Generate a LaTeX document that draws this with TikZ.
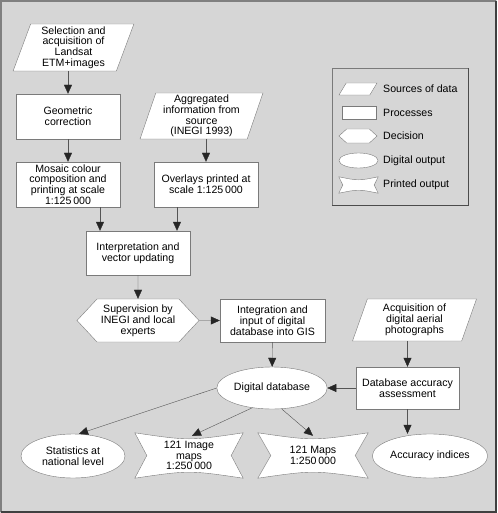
\documentclass[tikz,border=0pt]{standalone}
\usepackage{fontspec}
\setmainfont{Liberation Sans}
\usetikzlibrary{shapes.geometric,shapes.symbols,arrows.meta,backgrounds}
\definecolor{bggray}{HTML}{D6D6D6}
\definecolor{edgegray}{HTML}{7A7A7A}
\definecolor{linegray}{HTML}{555555}
\definecolor{tipgray}{HTML}{262626}
% outline of a printed output: node, side notch, top/bottom dip
\newcommand{\printedoutline}[3]{%
  \draw[edgegray, fill=white] (#1.north west) .. controls ([yshift=-2*#3]#1.north) .. (#1.north east)
    -- ([xshift=-#2]#1.east) -- (#1.south east) .. controls ([yshift=2*#3]#1.south) .. (#1.south west)
    -- ([xshift=#2]#1.west) -- cycle;}

\begin{document}
\begin{tikzpicture}[x=1pt, y=-1pt,
  every node/.style={font=\fontsize{10.6}{10.8}\selectfont, align=center, inner sep=1pt},
  process/.style={rectangle, draw=edgegray, fill=white},
  source/.style={trapezium, trapezium left angle=73, trapezium right angle=107, trapezium stretches=true, draw=edgegray, fill=white},
  decision/.style={signal, signal to=west and east, signal pointer angle=94, draw=edgegray, fill=white},
  digital/.style={ellipse, draw=edgegray, fill=white},
  printed/.style={rectangle},
  flow/.style={draw=linegray, -{Triangle[width=8pt, length=9pt, color=tipgray]}}]
  \useasboundingbox (0,0) rectangle (497,513);

  % Fonti e processi
  \node[source, minimum width=121, minimum height=47] (select) at (73.5,47.5) {Selection and\\acquisition of\\Landsat\\ETM+images};
  \node[process, minimum width=104, minimum height=45] (geo) at (68,116.5) {Geometric\\correction};
  \node[process, minimum width=104, minimum height=45] (mosaic) at (68,184.5) {Mosaic colour\\composition and\\printing at scale\\1:125\,000};
  \node[source, minimum width=123, minimum height=46] (aggreg) at (201.5,116) {Aggregated\\information from\\source\\(INEGI 1993)};
  \node[process, minimum width=104, minimum height=45] (overlay) at (206,184.5) {Overlays printed at\\scale 1:125\,000};
  \node[process, minimum width=104, minimum height=44] (interp) at (138,253) {Interpretation and\\vector updating};
  \node[decision, minimum width=122, minimum height=43] (superv) at (138,320.5) {Supervision by\\INEGI and local\\experts};
  \node[process, minimum width=105, minimum height=43] (integr) at (272.5,320.5) {Integration and\\input of digital\\database into GIS};
  \node[digital, minimum width=104, minimum height=42] (digdb) at (272,388) {Digital database};
  \node[source, minimum width=125, minimum height=42] (aerial) at (414.5,320) {Acquisition of\\digital aerial\\photographs};
  \node[process, minimum width=103, minimum height=42] (assess) at (407.5,388) {Database accuracy\\assessment};

  % Uscite
  \node[digital, minimum width=104, minimum height=44] (stats) at (73,456) {Statistics at\\national level};
  \node[printed, minimum width=108, minimum height=45] (imgmaps) at (189,455.5) {121 Image\\maps\\1:250\,000};
  \node[printed, minimum width=110, minimum height=45] (maps) at (313,455.5) {121 Maps\\1:250\,000};
  \node[digital, minimum width=104, minimum height=44] (indices) at (430,456) {Accuracy indices};

  % Legenda
  \draw[edgegray] (332,205) -- (332,68) -- (468,68);
  \draw[black!70] (332,205) -- (468,205) -- (468,68);
  \node[source, minimum width=38, minimum height=12] (lsource) at (358,89) {};
  \node[process, minimum width=34, minimum height=13] (lprocess) at (359,112.5) {};
  \node[decision, signal pointer angle=85, minimum width=38, minimum height=14] (ldecision) at (358,136) {};
  \node[digital, minimum width=39, minimum height=15] (ldigital) at (358.5,160.5) {};
  \node[printed, minimum width=39, minimum height=16] (lprinted) at (358.5,185) {};
  \node[anchor=west] (tsource) at (382,89) {Sources of data};
  \node[anchor=west] (tprocess) at (382,112.5) {Processes};
  \node[anchor=west] (tdecision) at (382,136) {Decision};
  \node[anchor=west] (tdigital) at (382,160.5) {Digital output};
  \node[anchor=west] (tprinted) at (382,184.5) {Printed output};

  % Frecce
  \draw[flow] (select.south -| geo.north) -- (geo.north);
  \draw[flow] (geo) -- (mosaic);
  \draw[flow] (aggreg.south -| overlay.north) -- (overlay.north);
  \draw[flow] ([xshift=32]mosaic.south) -- ([xshift=32]mosaic.south |- interp.north);
  \draw[flow] ([xshift=-29]overlay.south) -- ([xshift=-29]overlay.south |- interp.north);
  \draw[flow] (interp) -- (superv);
  \draw[flow] (superv) -- (integr);
  \draw[flow] (integr) -- (digdb);
  \draw[flow, {Triangle[width=8pt, length=9pt, color=tipgray]}-] (digdb) -- (assess);
  \draw[flow] (aerial.south -| assess.north) -- (assess.north);
  \draw[flow] (assess) -- (assess |- indices.north);
  \draw[flow] (digdb.west) -- ([xshift=6]stats.north);
  \draw[flow] (digdb.225) -- ([xshift=3, yshift=-3]imgmaps.north);
  \draw[flow] ([xshift=10]digdb.south) -- ([yshift=-3]maps.north);

  % Sfondo e contorni delle uscite stampate
  \begin{scope}[on background layer]
    \fill[bggray] (0,0) rectangle (497,513);
    \draw[gray, line width=1.5pt] (1,512) -- (1,1) -- (496,1);
    \draw[black!75, line width=2pt] (1,512) -- (496,512) -- (496,1);
    \printedoutline{imgmaps}{12}{4}
    \printedoutline{maps}{13}{4}
    \printedoutline{lprinted}{4}{2}
  \end{scope}
\end{tikzpicture}
\end{document}
